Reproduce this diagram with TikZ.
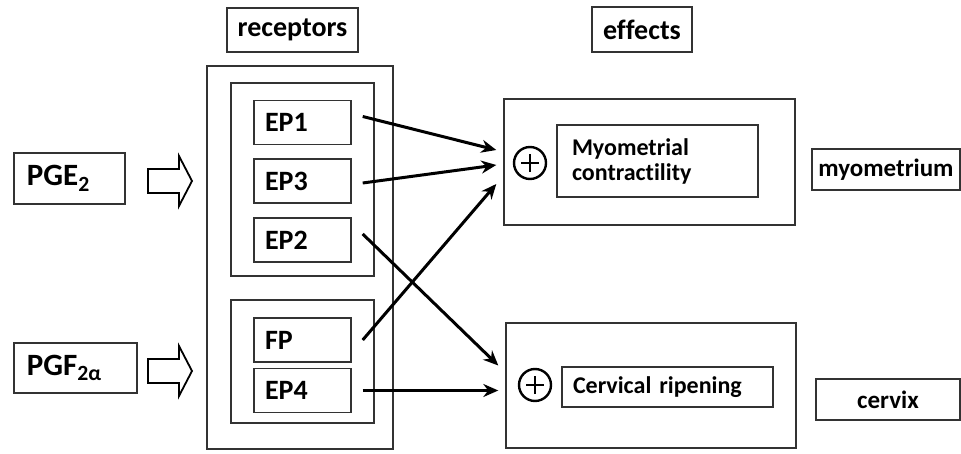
\documentclass[tikz,border=0pt]{standalone}
\usepackage{fontspec}
\setmainfont{Carlito}[Ligatures=NoCommon]
\usetikzlibrary{arrows.meta}
\newcommand{\widthreceptor}{97pt}
\newcommand{\heightreceptor}{44pt}
\newcommand{\hollowarrow}[1]{\draw[hollow] (#1) ++(0,-11) -- ++(31,0) -- ++(0,-13) -- ++(13,25) -- ++(-13,25) -- ++(0,-13) -- ++(-31,0) -- cycle;}
\tikzset{
    common/.style={draw=black!80, line width=1.4pt, rectangle, inner sep=0pt, font=\fontsize{28}{31}\selectfont\bfseries},
    heading/.style={common, minimum height=44pt},
    receptor/.style={common, minimum width=\widthreceptor, minimum height=\heightreceptor, text width=75pt, align=left},
    group/.style={draw=black!80, line width=1.4pt, rectangle, inner sep=0pt},
    agonist/.style={common, minimum height=51pt, align=left, font=\fontsize{31}{34}\selectfont\bfseries},
    effect/.style={common, align=left, font=\fontsize{24}{27}\selectfont\bfseries},
    organ/.style={common, minimum height=41pt, font=\fontsize{25}{28}\selectfont\bfseries},
    plus/.style={draw, circle, line width=2.4pt, minimum size=32pt, inner sep=0pt,
        path picture={
            \draw[line width=2.4pt]
                ([xshift=-9pt]path picture bounding box.center)--([xshift=9pt]path picture bounding box.center)
                ([yshift=-9pt]path picture bounding box.center)--([yshift=9pt]path picture bounding box.center);
        }
    },
    act/.style={line width=3pt, -{Stealth[length=15pt, width=13pt]}},
    hollow/.style={draw, line width=1.8pt, line join=miter, fill=white}
}
\begin{document}
\begin{tikzpicture}[x=1pt, y=-1pt]
    \useasboundingbox (0,0) rectangle (961,454);
    \node[heading, minimum width=131pt] (receptors) at (292.5,30) {receptors};
    \node[heading, minimum width=100pt, minimum height=45pt] (effects) at (642,29.5) {effects};

    \node[group, minimum width=186pt, minimum height=383pt] (allrec) at (300,257.5) {};
    \node[group, minimum width=143pt, minimum height=193pt] (epgroup) at (302.5,179.5) {};
    \node[group, minimum width=143pt, minimum height=123pt] (fpgroup) at (302.5,361.5) {};
    \node[receptor] (ep1) at (302.5,122.5) {EP1};
    \node[receptor] (ep3) at (302.5,181) {EP3};
    \node[receptor] (ep2) at (302.5,240) {EP2};
    \node[receptor] (fp) at (302.5,340) {FP};
    \node[receptor] (ep4) at (302.5,390.5) {EP4};

    \node[agonist, minimum width=111pt, text width=85pt] (pge) at (69.5,178.5) {PGE\textsubscript{2}};
    \node[agonist, minimum width=123pt, minimum height=50pt, text width=97pt] (pgf) at (75.5,368) {PGF\textsubscript{2α}};
    \coordinate (pgetail) at (148,180);
    \coordinate (pgftail) at (148,370);
    \hollowarrow{pgetail}
    \hollowarrow{pgftail}

    \node[group, minimum width=291pt, minimum height=126pt] (myo) at (649.5,162) {};
    \node[group, minimum width=290pt, minimum height=125pt] (cerv) at (651,385.5) {};
    \node[plus] (myoplus) at (530,163) {};
    \node[plus] (cervplus) at (535,385) {};
    \node[effect, minimum width=201pt, minimum height=72pt, text width=171pt] (contract) at (657.5,161) {Myometrial\\[-2pt]contractility};
    \node[effect, minimum width=211pt, minimum height=40pt, text width=189pt] (ripen) at (667.5,387) {Cervical ripening};

    \node[organ, minimum width=148pt] (myometrium) at (886,169.5) {myometrium};
    \node[organ, minimum width=144pt] (cervix) at (888,399.5) {cervix};

    \draw[act] ([xshift=11pt, yshift=6pt]ep1.east) -- ([xshift=-7pt, yshift=12pt]myo.west);
    \draw[act] ([xshift=11pt, yshift=-2pt]ep3.east) -- ([xshift=-7pt, yshift=-3pt]myo.west);
    \draw[act] ([xshift=11pt]fp.east) -- ([xshift=-7pt, yshift=-22pt]myo.west);
    \draw[act] ([xshift=11pt, yshift=6pt]ep2.east) -- ([xshift=-7pt, yshift=20pt]cerv.west);
    \draw[act] ([xshift=11pt]ep4.east) -- ([xshift=-7pt]cerv.west |- ep4.east);
\end{tikzpicture}
\end{document}
